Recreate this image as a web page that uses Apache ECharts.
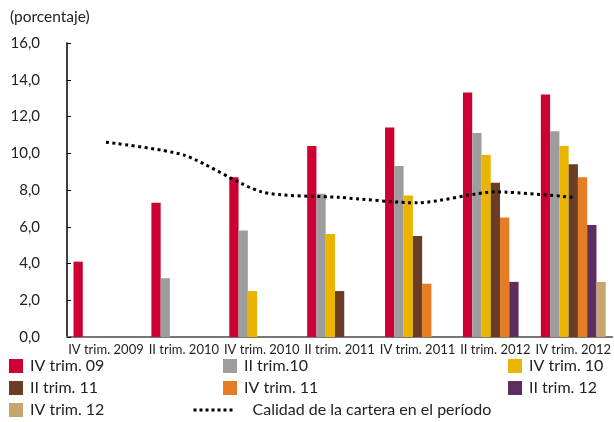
<!DOCTYPE html>
<html>
<head>
<meta charset="utf-8">
<script src="https://cdn.jsdelivr.net/npm/echarts@6/dist/echarts.min.js"></script>
<style>html,body{margin:0;padding:0;background:#fff}#c{width:614px;height:422px}</style>
</head>
<body>
<div id="c"></div>
<script>
var categories = ['IV trim. 2009','II trim. 2010','IV trim. 2010','II trim. 2011','IV trim. 2011','II trim. 2012','IV trim. 2012'];
var seriesNames = ['IV trim. 09','II trim.10','IV trim. 10','II trim. 11','IV trim. 11','II trim. 12','IV trim. 12'];
var ivTrim09 = [4.1, 7.3, 8.7, 10.4, 11.4, 13.3, 13.2];
var iiTrim10 = [null, 3.2, 5.8, 7.8, 9.3, 11.1, 11.2];
var ivTrim10 = [null, null, 2.5, 5.6, 7.7, 9.9, 10.4];
var iiTrim11 = [null, null, null, 2.5, 5.5, 8.4, 9.4];
var ivTrim11 = [null, null, null, null, 2.9, 6.5, 8.7];
var iiTrim12 = [null, null, null, null, null, 3.0, 6.1];
var ivTrim12 = [null, null, null, null, null, null, 3.0];
var lineName = 'Calidad de la cartera en el período';
var calidad = [10.6, 9.9, 7.9, 7.6, 7.3, 7.9, 7.6];
var yTicks = {min: 0, max: 16, interval: 2};

var colors = ['#CC0033','#9D9D9D','#EBB400','#6A3D26','#E67D24','#5E2D60','#C6A56E'];
var barData = [ivTrim09, iiTrim10, ivTrim10, iiTrim11, ivTrim11, iiTrim12, ivTrim12];
var FONT = 'Lato';

var series = barData.map(function(d, i){
  return {name: seriesNames[i], type: 'bar', data: d, barGap: '0%', barCategoryGap: '16.7%',
    itemStyle: {color: colors[i]}};
});
series.push({name: lineName, type: 'line', data: calidad, symbol: 'none', smooth: 0.25,
  lineStyle: {color: '#000', width: 3, type: [3, 3.5]}, itemStyle: {color: '#000'}, z: 5});

var legendPos = [[9,358],[223,358],[508,358],[9,380],[223,380],[508,380],[9,402]];
var legends = seriesNames.map(function(n, i){
  return {data: [n], left: legendPos[i][0], top: legendPos[i][1], icon: 'rect', itemWidth: 14, itemHeight: 14,
    itemGap: 0, padding: 0, textStyle: {fontFamily: FONT, fontSize: 16, color: '#222', padding: [0,0,0,2]}};
});
legends.push({data: [{name: lineName, itemStyle: {opacity: 0}}], left: 192, top: 402, itemWidth: 42, itemHeight: 14, padding: 0,
  lineStyle: {color: '#000', width: 3, type: [3, 3]},
  textStyle: {fontFamily: FONT, fontSize: 16, color: '#222', padding: [0,0,0,12]}});

var chart = echarts.init(document.getElementById('c'), null, {renderer: 'canvas'});
chart.setOption({
  animation: false,
  color: colors,
  title: {text: '(porcentaje)', left: 5, top: 4, textStyle: {fontFamily: FONT, fontSize: 15.5, fontWeight: 'normal', color: '#222'}},
  legend: legends,
  grid: {left: 67, right: 1, top: 43, bottom: 85, containLabel: false},
  xAxis: {type: 'category', data: categories,
    axisLine: {lineStyle: {color: '#777', width: 2}},
    axisTick: {inside: true, length: 6, lineStyle: {color: '#000', width: 1}, interval: 0},
    axisLabel: {fontFamily: FONT, fontSize: 13, color: '#222', margin: 6, interval: 0}},
  yAxis: {type: 'value', min: yTicks.min, max: yTicks.max, interval: yTicks.interval,
    axisLine: {show: true, lineStyle: {color: '#000', width: 1.5}},
    axisTick: {show: true, inside: true, length: 4, lineStyle: {color: '#000'}},
    splitLine: {show: false},
    axisLabel: {fontFamily: FONT, fontSize: 15, color: '#222', margin: 27,
      formatter: function(v){ return v.toFixed(1).replace('.', ','); }}},
  series: series
});
</script>
</body>
</html>
